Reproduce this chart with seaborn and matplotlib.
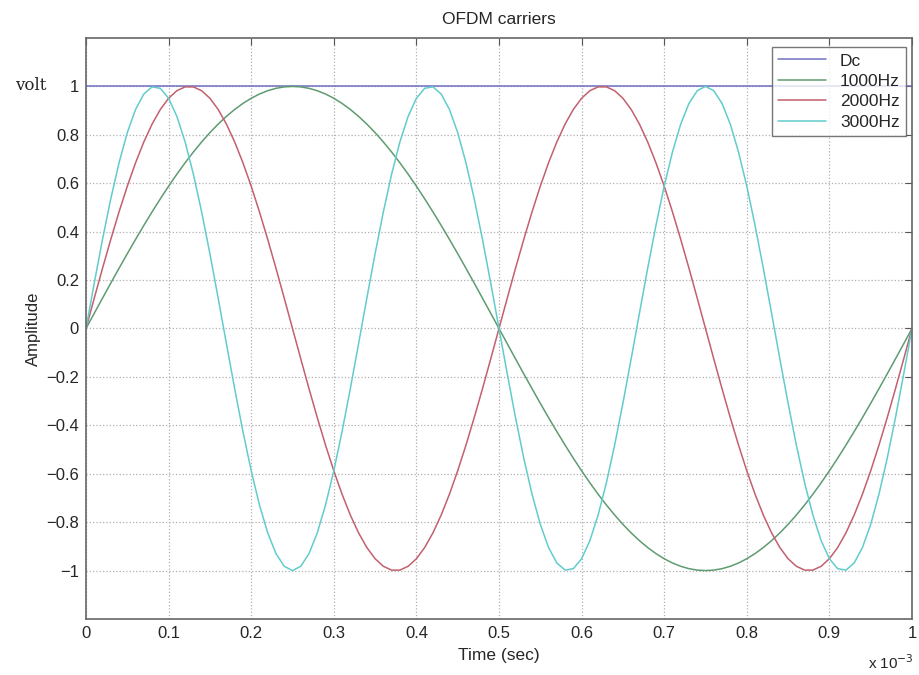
import numpy as np
import pandas as pd
import matplotlib
matplotlib.use("Agg")
import matplotlib.pyplot as plt
import seaborn as sns

# carriers shown in the chart
carriers = ["Dc", "1000Hz", "2000Hz", "3000Hz"]
freqs_hz = [0, 1000, 2000, 3000]
colors = ["#7070c4", "#5e9c70", "#c2606e", "#62cccc"]

# time axis, 0 .. 1 ms, one period of the lowest carrier
t = np.linspace(0, 1e-3, 101)

rows = []
for name, f in zip(carriers, freqs_hz):
    if f == 0:
        y = np.ones_like(t)
    else:
        y = np.sin(2 * np.pi * f * t)
    rows.append(pd.DataFrame({"t": t * 1e3, "amp": y, "carrier": name}))
df = pd.concat(rows, ignore_index=True)

sns.set_style("white")
plt.rcParams["font.family"] = ["Liberation Sans", "DejaVu Sans"]

fig = plt.figure(figsize=(9.2, 6.75), dpi=100)
ax = fig.add_axes([86 / 920, 1 - 619 / 675, 826 / 920, 581 / 675])

sns.lineplot(data=df, x="t", y="amp", hue="carrier", hue_order=carriers,
             palette=colors, linewidth=1.1, ax=ax, legend=True)

ax.set_xlim(0, 1)
ax.set_ylim(-1.2, 1.2)
ax.set_xticks(np.arange(0, 1.01, 0.1))
ax.set_xticklabels(["0", "0.1", "0.2", "0.3", "0.4", "0.5", "0.6", "0.7", "0.8", "0.9", "1"])
yt = np.round(np.arange(-1, 1.01, 0.2), 1)
ax.set_yticks(yt)
ylabels = []
for v in yt:
    s = "0" if v == 0 else f"{v:g}"
    ylabels.append(s.replace("-", "\u2212"))
ax.set_yticklabels(ylabels)
ax.tick_params(direction="in", length=5, top=True, right=True, labelsize=12,
               color="#555555", pad=5)
ax.grid(True, linestyle=":", color="#b0b0b0", linewidth=0.9)
for s in ax.spines.values():
    s.set_color("#666666")
    s.set_linewidth(1.2)

ax.set_title("OFDM carriers", fontsize=12.5, pad=10)
ax.set_xlabel("Time (sec)", fontsize=12.5, labelpad=5)
ax.set_ylabel("Amplitude", fontsize=12, labelpad=4)

fig.text(15 / 920, 1 - 86 / 675, "volt", family="DejaVu Serif", fontsize=12, va="center")
fig.text(868 / 920, 1 - 663 / 675, "x 10$^{-3}$", fontsize=11, va="center")

leg = ax.legend(title=None, loc="upper right", bbox_to_anchor=(0.997, 0.99),
                fontsize=12.5, frameon=True, fancybox=False, handlelength=2.8,
                borderpad=0.35, labelspacing=0.3, borderaxespad=0.2,
                handletextpad=0.8)
leg.get_frame().set_edgecolor("#555555")
leg.get_frame().set_linewidth(1.0)

fig.savefig("out.png", dpi=100)
